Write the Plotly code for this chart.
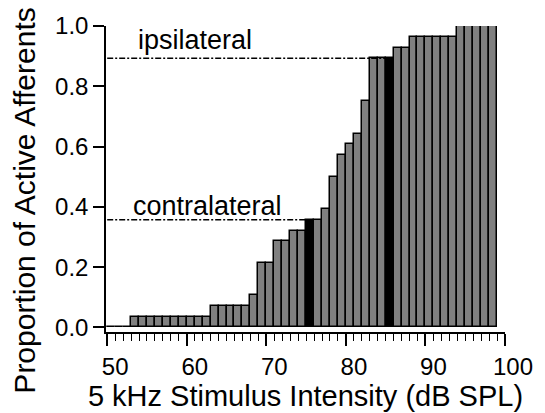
import plotly.graph_objects as go

# Stimulus intensity bins (dB SPL, left edges) and proportion of active afferents (n = 28)
intensity = list(range(50, 99))
counts = [0, 0, 0,                      # 50-52
          1, 1, 1, 1, 1, 1, 1, 1, 1, 1,  # 53-62
          2, 2, 2, 2, 2,                 # 63-67
          3, 6, 6, 8, 8, 9, 9,           # 68-74
          10, 10, 11, 14, 16, 17, 18, 21,  # 75-82
          25, 25, 25, 26, 26,            # 83-87
          27, 27, 27, 27, 27, 27,        # 88-93
          28, 28, 28, 28, 28]            # 94-98
n_total = 28
proportion = [c / n_total for c in counts]

highlight = {75: "contralateral", 85: "ipsilateral"}
x_ticks = [50, 60, 70, 80, 90, 100]
y_ticks = [0.0, 0.2, 0.4, 0.6, 0.8, 1.0]

colors = ["black" if x in highlight else "#808080" for x in intensity]

fig = go.Figure()
fig.add_trace(go.Bar(
    x=[x + 0.5 for x in intensity], y=proportion, width=1,
    marker=dict(color=colors, line=dict(color="black", width=1.5)),
    showlegend=False, hoverinfo="skip", cliponaxis=False))

font = "Liberation Sans, Arial, sans-serif"
label_pos = {75: (53.0, -3), 85: (53.6, 1)}
for x_hl, label in highlight.items():
    level = proportion[intensity.index(x_hl)]
    fig.add_trace(go.Scatter(
        x=[50, x_hl], y=[level, level], mode="lines",
        line=dict(color="black", width=1.4, dash="6px,2px,2px,2px"),
        showlegend=False, hoverinfo="skip"))
    lx, ys = label_pos[x_hl]
    fig.add_annotation(x=lx, y=level, text=label, showarrow=False,
                       xanchor="left", yanchor="bottom", yshift=ys,
                       font=dict(family=font, size=27, color="black"))

# y-axis title placed as annotation (positioned lower than the axis centre, as in the reference)
fig.add_annotation(text="Proportion of Active Afferents", xref="paper", yref="paper",
                   x=-0.205, y=0.43, textangle=-90, showarrow=False,
                   xanchor="center", yanchor="middle",
                   font=dict(family=font, size=30, color="black"))

fig.update_layout(
    width=545, height=413,
    margin=dict(l=106, r=37, t=25, b=75),
    paper_bgcolor="white", plot_bgcolor="white",
    bargap=0,
    font=dict(family=font, color="black"),
)
fig.update_xaxes(
    range=[49.85, 100], tickvals=x_ticks, ticks="outside", ticklen=12, tickwidth=1.5,
    showline=True, linecolor="black", linewidth=1.5, showgrid=False, zeroline=False,
    minor=dict(dtick=1, ticks="outside", ticklen=7, tickwidth=1.2, tickcolor="black", showgrid=False),
    tickfont=dict(size=24), tickcolor="black", ticklabelshift=8,
    title=dict(text="5 kHz Stimulus Intensity (dB SPL)", font=dict(size=29), standoff=1))
fig.update_yaxes(
    range=[-0.015, 1.0], tickvals=y_ticks, ticktext=[f"{v:.1f}" for v in y_ticks],
    ticks="outside", ticklen=11, tickwidth=1.5, tickcolor="black",
    showline=True, linecolor="black", linewidth=1.5, showgrid=False, zeroline=False,
    tickfont=dict(size=24))

fig.write_html("out.html")
